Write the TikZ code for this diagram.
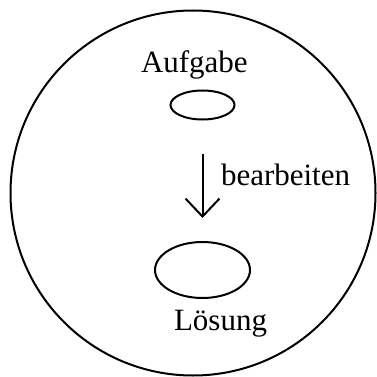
\documentclass[tikz,border=0pt]{standalone}
\usepackage{fontspec}
\setmainfont{Liberation Serif}
\usetikzlibrary{arrows.meta,shapes.geometric}

\begin{document}
\begin{tikzpicture}[x=1pt, y=-1pt, line width=2pt,
  blob/.style={ellipse, draw, inner sep=0pt},
  lbl/.style={font=\fontsize{31}{36}\selectfont, inner sep=0pt, anchor=base west},
  edge/.style={-{Straight Barb[length=18pt, width=34pt, line width=2pt]}, line width=2pt}
]
\useasboundingbox (0,0) rectangle (376,377);
\node[circle, draw, minimum size=365pt, inner sep=0pt] (world) at (193,193) {};
\node[blob, minimum width=64pt, minimum height=29pt] (task) at (202.5,105) {};
\node[blob, minimum width=95pt, minimum height=56pt] (sol) at (202.5,270) {};
\node[lbl] (tasklbl) at (140,73) {Aufgabe};
\node[lbl] (sollbl) at (173,330) {Lösung};
\node[lbl] (actlbl) at (220,185) {bearbeiten};
\draw[edge, shorten <=33pt, shorten >=23pt] (task) -- (sol);
\end{tikzpicture}
\end{document}
